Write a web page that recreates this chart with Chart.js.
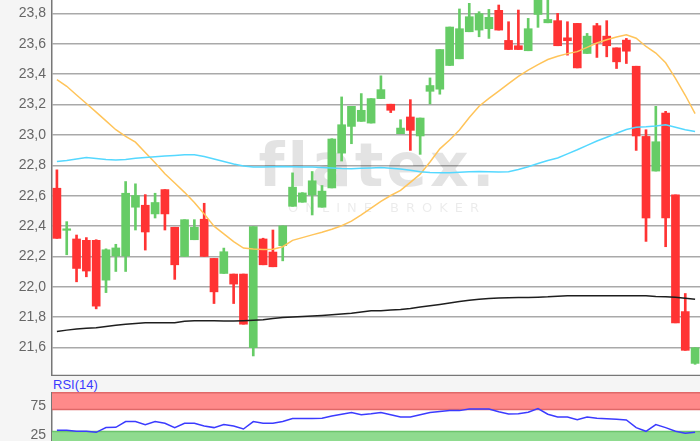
<!DOCTYPE html>
<html>
<head>
<meta charset="utf-8">
<script src="https://cdn.jsdelivr.net/npm/chart.js@4.4.1/dist/chart.umd.min.js"></script>
<style>
html, body { margin: 0; padding: 0; width: 700px; height: 441px; overflow: hidden; background: #f5f5f5; }
#main { position: absolute; left: 0; top: 0; }
#rsi { position: absolute; left: 0; top: 392px; }
#rsiLabel { position: absolute; left: 53px; top: 377px; font: 13px "Liberation Sans", Arial, sans-serif; color: #3a3aff; }
</style>
</head>
<body>
<canvas id="main" width="700" height="376"></canvas>
<div id="rsiLabel">RSI(14)</div>
<canvas id="rsi" width="700" height="58"></canvas>
<script>
// candles
const opens = [22.649,22.372,22.315,22.306,22.306,22.044,22.203,22.203,22.524,22.537,22.480,22.640,22.392,22.200,22.310,22.445,22.187,22.088,22.084,22.084,
  21.600,22.315,22.229,22.271,22.530,22.557,22.605,22.524,22.651,22.880,23.056,23.089,23.078,23.239,23.202,23.008,23.118,22.993,23.287,23.301,
  23.457,23.501,23.679,23.690,23.699,23.820,23.622,23.587,23.554,23.793,23.738,23.752,23.639,23.734,23.536,23.719,23.650,23.573,23.624,23.452,
  22.990,22.762,23.144,22.605,21.837,21.496];
const highs = [22.770,22.429,22.341,22.324,22.310,22.250,22.280,22.693,22.678,22.607,22.616,22.640,22.392,22.442,22.442,22.550,22.187,22.255,22.084,22.084,
  22.396,22.320,22.374,22.401,22.750,22.620,22.759,22.667,22.975,23.250,23.188,23.272,23.239,23.389,23.202,23.100,23.232,23.111,23.375,23.562,
  23.710,23.829,23.866,23.811,23.826,23.855,23.745,23.822,23.767,23.950,23.950,23.800,23.745,23.734,23.668,23.734,23.752,23.573,23.635,23.452,
  23.034,23.188,23.155,22.605,21.956,21.600];
const lows = [22.319,22.211,22.033,22.066,21.855,21.962,22.101,22.101,22.374,22.242,22.453,22.374,22.049,22.200,22.310,22.200,21.890,22.088,21.890,21.754,
  21.545,22.145,22.132,22.171,22.530,22.557,22.473,22.524,22.651,22.828,22.942,23.089,23.078,23.239,23.147,23.008,22.898,22.872,23.204,23.268,
  23.457,23.501,23.679,23.646,23.635,23.690,23.562,23.562,23.554,23.708,23.738,23.587,23.525,23.441,23.536,23.510,23.514,23.437,23.470,22.898,
  22.299,22.762,22.264,21.763,21.582,21.490];
const closes = [22.319,22.381,22.121,22.104,21.873,22.244,22.256,22.616,22.601,22.361,22.555,22.480,22.145,22.442,22.392,22.200,21.967,22.231,22.018,21.754,
  22.396,22.145,22.132,22.401,22.656,22.618,22.698,22.630,22.973,23.067,23.188,23.162,23.239,23.298,23.162,23.045,23.030,23.111,23.325,23.562,
  23.710,23.699,23.778,23.798,23.774,23.690,23.562,23.562,23.699,23.950,23.760,23.587,23.620,23.441,23.650,23.606,23.587,23.481,23.551,22.993,
  22.453,22.955,22.453,21.763,21.582,21.599];

// moving averages
const maShort = [23.364,23.320,23.263,23.207,23.150,23.092,23.034,22.991,22.952,22.884,22.816,22.744,22.683,22.622,22.555,22.480,22.399,22.349,22.297,22.255,
  22.249,22.245,22.248,22.264,22.306,22.324,22.342,22.359,22.379,22.402,22.432,22.473,22.518,22.562,22.601,22.635,22.688,22.742,22.822,22.908,
  22.966,23.032,23.114,23.189,23.240,23.288,23.337,23.385,23.426,23.463,23.496,23.518,23.535,23.548,23.576,23.605,23.626,23.645,23.659,23.636,
  23.582,23.539,23.475,23.372,23.261,23.140];
const maMid = [22.825,22.832,22.842,22.851,22.845,22.838,22.835,22.838,22.846,22.851,22.856,22.861,22.865,22.870,22.870,22.858,22.842,22.825,22.809,22.795,
  22.789,22.789,22.791,22.792,22.791,22.789,22.788,22.785,22.782,22.779,22.778,22.780,22.782,22.785,22.781,22.776,22.767,22.757,22.752,22.751,
  22.751,22.754,22.757,22.759,22.757,22.755,22.757,22.772,22.790,22.812,22.832,22.848,22.875,22.902,22.931,22.960,22.985,23.011,23.036,23.050,
  23.053,23.059,23.067,23.050,23.034,23.023];
const maLong = [21.706,21.715,21.722,21.727,21.731,21.739,21.747,21.754,21.759,21.764,21.764,21.764,21.764,21.774,21.776,21.776,21.776,21.775,21.775,21.777,
  21.780,21.784,21.791,21.798,21.801,21.805,21.808,21.812,21.816,21.821,21.826,21.834,21.842,21.843,21.847,21.851,21.858,21.867,21.875,21.884,
  21.894,21.904,21.912,21.918,21.923,21.926,21.928,21.929,21.930,21.932,21.934,21.938,21.941,21.941,21.941,21.941,21.941,21.941,21.941,21.941,
  21.941,21.937,21.935,21.931,21.925,21.919];

const rsi = [34.0,34.0,32.2,32.2,30.5,38.6,39.1,49.0,49.0,43.8,49.0,46.0,38.6,46.0,46.0,41.4,38.6,43.8,41.4,36.2,
  49.0,46.0,46.0,49.0,54.1,54.1,54.1,54.7,58.6,61.6,64.5,60.7,62.4,64.5,60.7,56.9,56.9,60.7,64.5,66.2,
  67.9,67.9,70.7,70.7,70.7,65.9,62.1,62.4,65.0,71.4,61.6,56.9,56.9,52.1,56.9,54.7,53.8,52.9,51.7,38.6,
  32.2,43.8,38.6,32.2,28.8,30.5];

const priceTicks = [21.6,21.8,22.0,22.2,22.4,22.6,22.8,23.0,23.2,23.4,23.6,23.8];
const rsiTicks = [25,50,75];
const rsiHigh = 70, rsiLow = 32;

const labels = opens.map((o, i) => String(i + 1));
const candleColors = closes.map((c, i) => c >= opens[i] ? 'rgb(102,204,102)' : 'rgb(255,51,51)');

const plotBg = {
  id: 'plotBg',
  beforeDraw(chart) {
    const {ctx, chartArea: a} = chart;
    ctx.save();
    ctx.fillStyle = '#ffffff';
    ctx.fillRect(a.left, a.top, a.right - a.left, a.bottom - a.top);
    ctx.restore();
  },
  afterDraw(chart) {
    const {ctx, chartArea: a} = chart;
    ctx.save();
    ctx.strokeStyle = '#777';
    ctx.lineWidth = 1.5;
    ctx.beginPath();
    ctx.moveTo(a.left, a.bottom - 0.5);
    ctx.lineTo(a.right, a.bottom - 0.5);
    ctx.stroke();
    ctx.restore();
  }
};

const watermark = {
  id: 'watermark',
  beforeDatasetsDraw(chart) {
    const ctx = chart.ctx;
    ctx.save();
    ctx.fillStyle = 'rgba(0,0,0,0.11)';
    ctx.textAlign = 'center';
    ctx.textBaseline = 'alphabetic';
    ctx.font = 'bold 60px "DejaVu Sans"';
    ctx.letterSpacing = '3px';
    ctx.fillText('flatex.', 378, 186);
    ctx.fillStyle = 'rgba(0,0,0,0.08)';
    ctx.font = '13px "DejaVu Sans"';
    ctx.letterSpacing = '7px';
    ctx.fillText('ONLINE BROKER', 387, 212);
    ctx.restore();
  }
};

function fixAxis(scale) {
  scale.width = 52;
  scale.paddingTop = 0;
  scale.paddingBottom = 0;
}

new Chart(document.getElementById('main'), {
  data: {
    labels: labels,
    datasets: [
      { type: 'line', data: maLong, borderColor: '#1e1e1e', borderWidth: 1.5, pointRadius: 0, order: 0 },
      { type: 'line', data: maMid, borderColor: '#55d8ff', borderWidth: 1.5, pointRadius: 0, order: 0 },
      { type: 'line', data: maShort, borderColor: '#ffc45a', borderWidth: 1.5, pointRadius: 0, order: 0 },
      { type: 'bar', data: opens.map((o, i) => [o, closes[i]]), backgroundColor: candleColors,
        barThickness: 8, grouped: false, minBarLength: 1.5, order: 1 },
      { type: 'bar', data: lows.map((l, i) => [l, highs[i]]), backgroundColor: candleColors,
        barThickness: 2, grouped: false, order: 2 }
    ]
  },
  options: {
    responsive: false,
    animation: false,
    devicePixelRatio: 1,
    layout: { padding: 0 },
    plugins: { legend: { display: false }, tooltip: { enabled: false } },
    scales: {
      x: { type: 'category', offset: true, display: false, grid: { display: false } },
      y: {
        min: 21.413, max: 23.888,
        afterBuildTicks: (s) => { s.ticks = priceTicks.map(v => ({ value: v })); },
        afterFit: fixAxis,
        border: { display: true, color: '#777', width: 1.5 },
        grid: { color: '#a9a9a9', lineWidth: 1.5, drawTicks: false },
        ticks: { padding: 6, color: '#666', font: { family: '"Liberation Sans", Arial', size: 14 },
          callback: (v) => v.toFixed(1).replace('.', ',') }
      }
    }
  },
  plugins: [plotBg, watermark]
});

const rsiBands = {
  id: 'rsiBands',
  beforeDatasetsDraw(chart) {
    const {ctx, chartArea: a, scales: {y}} = chart;
    const yTop = y.getPixelForValue(100), yHi = y.getPixelForValue(rsiHigh);
    const yLo = y.getPixelForValue(rsiLow), yBot = y.getPixelForValue(0);
    ctx.save();
    ctx.fillStyle = '#ff8a8a';
    ctx.fillRect(a.left, yTop, a.right - a.left, yHi - yTop);
    ctx.fillStyle = '#8fdb8f';
    ctx.fillRect(a.left, yLo, a.right - a.left, yBot - yLo);
    ctx.lineWidth = 1.5;
    ctx.strokeStyle = '#e06868';
    ctx.beginPath();
    ctx.moveTo(a.left, yTop + 0.75); ctx.lineTo(a.right, yTop + 0.75);
    ctx.moveTo(a.left, yHi); ctx.lineTo(a.right, yHi);
    ctx.stroke();
    ctx.strokeStyle = '#6cc46c';
    ctx.beginPath();
    ctx.moveTo(a.left, yLo); ctx.lineTo(a.right, yLo);
    ctx.stroke();
    ctx.restore();
  }
};

new Chart(document.getElementById('rsi'), {
  type: 'line',
  data: {
    labels: labels,
    datasets: [{ data: rsi, borderColor: '#3b3bff', borderWidth: 1.5, pointRadius: 0 }]
  },
  options: {
    responsive: false,
    animation: false,
    devicePixelRatio: 1,
    layout: { padding: 0 },
    plugins: { legend: { display: false }, tooltip: { enabled: false } },
    scales: {
      x: { type: 'category', offset: true, display: false, grid: { display: false } },
      y: {
        min: 0, max: 100,
        afterBuildTicks: (s) => { s.ticks = rsiTicks.map(v => ({ value: v })); },
        afterFit: fixAxis,
        border: { display: true, color: '#777', width: 1.5 },
        grid: { color: '#a9a9a9', lineWidth: 1.5, drawTicks: false },
        ticks: { padding: 6, color: '#666', font: { family: '"Liberation Sans", Arial', size: 14 },
          callback: (v) => v === 50 ? '' : String(v) }
      }
    }
  },
  plugins: [plotBg, rsiBands]
});
</script>
</body>
</html>
